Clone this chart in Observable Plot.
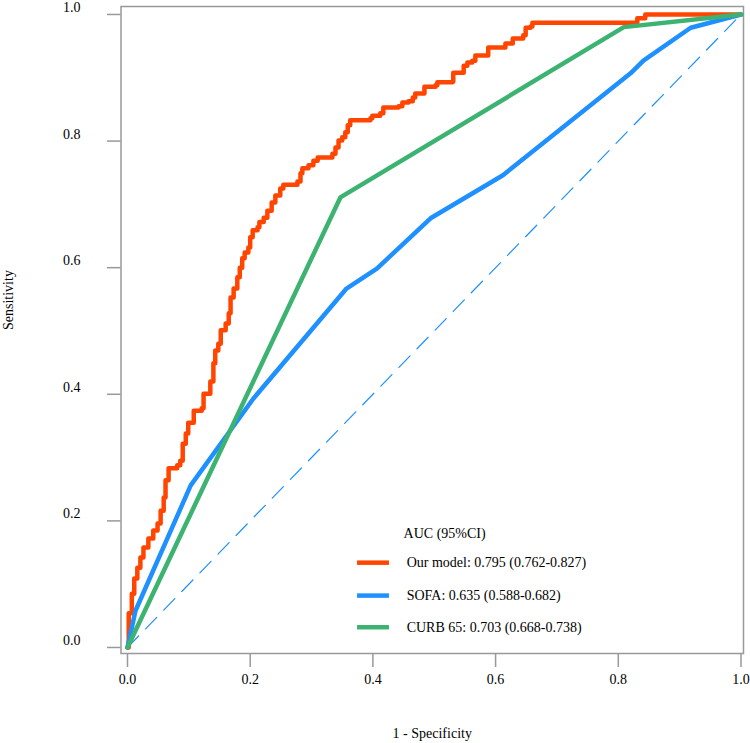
<!DOCTYPE html>
<html><head><meta charset="utf-8">
<script src="https://cdn.jsdelivr.net/npm/d3@7"></script>
<script src="https://cdn.jsdelivr.net/npm/@observablehq/plot@0.6"></script>
<style>body{margin:0;background:#fff}</style>
</head><body><div id="chart"></div>
<script>
// Our model (step ROC)
const fprModel = [
  0, 0.002, 0.007, 0.011, 0.016, 0.021, 0.026, 0.034, 0.042, 0.049,
  0.054, 0.059, 0.062, 0.067, 0.081, 0.086, 0.090, 0.095, 0.099, 0.108,
  0.121, 0.124, 0.135, 0.140, 0.143, 0.148, 0.152, 0.160, 0.165, 0.168,
  0.173, 0.179, 0.183, 0.187, 0.191, 0.197, 0.200, 0.204, 0.212, 0.215,
  0.222, 0.228, 0.235, 0.241, 0.249, 0.254, 0.277, 0.282, 0.285, 0.295,
  0.303, 0.310, 0.334, 0.339, 0.344, 0.350, 0.355, 0.359, 0.363, 0.396,
  0.399, 0.412, 0.417, 0.442, 0.448, 0.458, 0.465, 0.469, 0.481, 0.484,
  0.502, 0.505, 0.530, 0.531, 0.546, 0.548, 0.554, 0.562, 0.567, 0.587,
  0.588, 0.611, 0.616, 0.624, 0.628, 0.645, 0.649, 0.657, 0.660, 0.831,
  0.844, 1.0
];
const tprModel = [
  0, 0.054, 0.085, 0.109, 0.126, 0.142, 0.158, 0.172, 0.185, 0.196,
  0.216, 0.237, 0.264, 0.283, 0.288, 0.295, 0.322, 0.338, 0.355, 0.374,
  0.378, 0.401, 0.420, 0.449, 0.469, 0.480, 0.501, 0.512, 0.528, 0.553,
  0.567, 0.585, 0.600, 0.615, 0.624, 0.632, 0.648, 0.659, 0.664, 0.672,
  0.679, 0.690, 0.703, 0.714, 0.725, 0.731, 0.736, 0.749, 0.757, 0.762,
  0.769, 0.774, 0.780, 0.790, 0.801, 0.806, 0.814, 0.825, 0.833, 0.836,
  0.840, 0.844, 0.853, 0.855, 0.861, 0.863, 0.869, 0.875, 0.875, 0.886,
  0.888, 0.893, 0.894, 0.908, 0.908, 0.919, 0.924, 0.927, 0.935, 0.935,
  0.948, 0.948, 0.954, 0.954, 0.962, 0.967, 0.979, 0.981, 0.987, 0.994,
  1.0, 1.0
];
// SOFA
const fprSofa = [0, 0.013, 0.103, 0.205, 0.357, 0.407, 0.494, 0.612, 0.820, 0.841, 0.918, 1.0];
const tprSofa = [0, 0.058, 0.256, 0.393, 0.567, 0.599, 0.678, 0.746, 0.907, 0.927, 0.979, 1.0];
// CURB 65
const fprCurb = [0, 0.347, 0.809, 1.0];
const tprCurb = [0, 0.711, 0.980, 1.0];
// reference diagonal
const refLine = [0, 1];

const xTicks = [0, 0.2, 0.4, 0.6, 0.8, 1.0];
const yTicks = [0, 0.2, 0.4, 0.6, 0.8, 1.0];
const legendTitle = "AUC (95%CI)";
const legendLabels = ["Our model: 0.795 (0.762-0.827)", "SOFA: 0.635 (0.588-0.682)", "CURB 65: 0.703 (0.668-0.738)"];
const seriesColors = ["#FF4500", "#1E90FF", "#3CB371"];

const toRows = (xs, ys) => xs.map((x, i) => ({x, y: ys[i]}));
const model = toRows(fprModel, tprModel);
const sofa = toRows(fprSofa, tprSofa);
const curb = toRows(fprCurb, tprCurb);

// legend layout (data units, like an R legend placed in user coordinates)
const legRowsY = [0.134, 0.082, 0.032];
const legTitleY = 0.180;
const legLineX1 = 0.375, legLineX2 = 0.427, legTextX = 0.455, legTitleX = 0.450;
const legendRows = legendLabels.map((t, i) => ({t, c: seriesColors[i], y: legRowsY[i]}));

const fmt = d3.format(".1f");
const gray = "#999";
const lw = 4.5;

const chart = Plot.plot({
  width: 750,
  height: 743,
  marginLeft: 120.5,
  marginRight: 7,
  marginTop: 6,
  marginBottom: 90,
  style: {fontFamily: "'Liberation Serif', 'Times New Roman', serif", fontSize: "14px", color: "black", background: "white"},
  x: {domain: [-0.0106, 1.0041], axis: null},
  y: {domain: [-0.0095, 1.0126], axis: null},
  marks: [
    Plot.frame({stroke: gray, strokeWidth: 1.5}),
    Plot.axisX(xTicks, {tickSize: 14, tickFormat: () => "", stroke: gray, strokeWidth: 1.5, label: null}),
    Plot.axisY(yTicks, {tickSize: 13.5, tickFormat: () => "", stroke: gray, strokeWidth: 1.5, label: null}),
    Plot.text(xTicks, {x: d => d, frameAnchor: "bottom", dy: 30, text: fmt, fontSize: 14}),
    Plot.text(yTicks, {y: d => d, frameAnchor: "left", dx: -40.5, dy: -7, textAnchor: "end", text: fmt, fontSize: 14}),
    Plot.text(["1 - Specificity"], {frameAnchor: "bottom", dy: 84, fontSize: 14}),
    Plot.text(["Sensitivity"], {frameAnchor: "left", dx: -112, rotate: -90, fontSize: 14}),
    Plot.line(refLine, {x: d => d, y: d => d, stroke: "#1E90FF", strokeWidth: 1.2, strokeDasharray: "16,10"}),
    Plot.line(model, {x: "x", y: "y", curve: "step-after", stroke: seriesColors[0], strokeWidth: lw}),
    Plot.line(sofa, {x: "x", y: "y", stroke: seriesColors[1], strokeWidth: lw}),
    Plot.line(curb, {x: "x", y: "y", stroke: seriesColors[2], strokeWidth: lw}),
    Plot.text([legendTitle], {x: legTitleX, y: legTitleY, textAnchor: "start", fontSize: 14}),
    Plot.ruleY(legendRows, {y: "y", x1: legLineX1, x2: legLineX2, stroke: "c", strokeWidth: lw}),
    Plot.text(legendRows, {x: legTextX, y: "y", text: "t", textAnchor: "start", fontSize: 14})
  ]
});
document.getElementById("chart").appendChild(chart);
</script>
</body></html>
